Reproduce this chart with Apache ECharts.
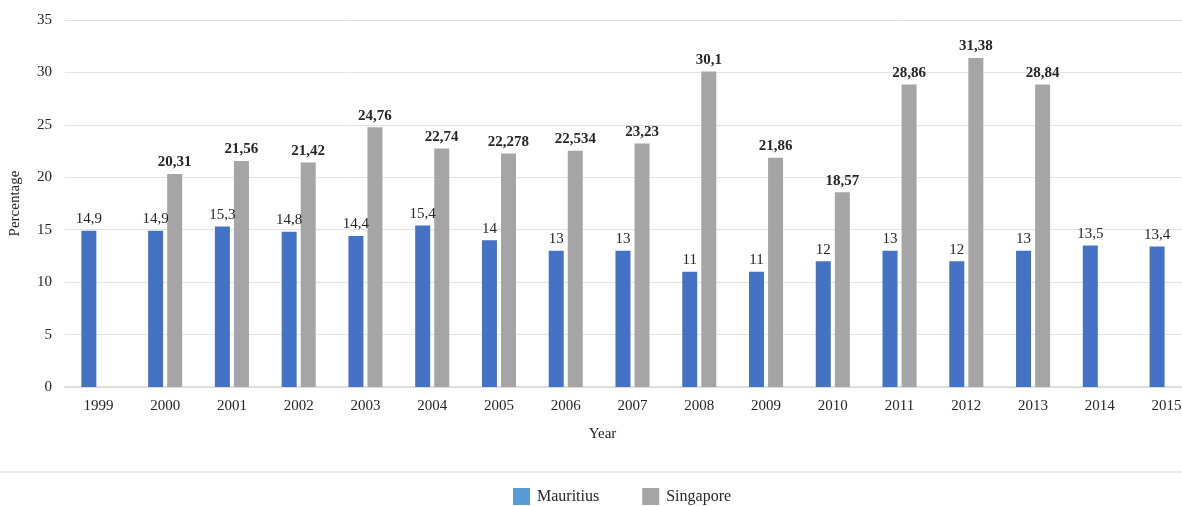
<!DOCTYPE html>
<html>
<head>
<meta charset="utf-8">
<script src="https://cdn.jsdelivr.net/npm/echarts@6/dist/echarts.min.js"></script>
<style>html,body{margin:0;padding:0;background:#fff;}#c{width:1182px;height:506px;}</style>
</head>
<body>
<div id="c"></div>
<script>
const years = ['1999','2000','2001','2002','2003','2004','2005','2006','2007','2008','2009','2010','2011','2012','2013','2014','2015'];
const mauritius = [14.9, 14.9, 15.3, 14.8, 14.4, 15.4, 14, 13, 13, 11, 11, 12, 13, 12, 13, 13.5, 13.4];
const singapore = [null, 20.31, 21.56, 21.42, 24.76, 22.74, 22.278, 22.534, 23.23, 30.1, 21.86, 18.57, 28.86, 31.38, 28.84, null, null];
const seriesNames = ['Mauritius', 'Singapore'];

const font = 'Liberation Serif';
const fmt = p => String(p.value).replace('.', ',');
const chart = echarts.init(document.getElementById('c'));
chart.setOption({
  animation: false,
  textStyle: { fontFamily: font },
  grid: { left: 65, width: 1135, top: 20, height: 367, containLabel: false, outerBoundsMode: 'none' },
  legend: {
    top: 483, left: 508, icon: 'rect', itemWidth: 17, itemHeight: 17, itemGap: 43,
    textStyle: { fontFamily: font, fontSize: 16, color: '#262626', padding: [0, 0, 0, 2] },
    data: [
      { name: seriesNames[0], itemStyle: { color: '#5b9bd5' } },
      { name: seriesNames[1], itemStyle: { color: '#a5a5a5' } }
    ]
  },
  graphic: [{ type: 'line', shape: { x1: 0, y1: 472, x2: 1182, y2: 472 }, style: { stroke: '#d9d9d9', lineWidth: 1 } }],
  xAxis: {
    type: 'category', data: years,
    name: 'Year', nameLocation: 'middle', nameGap: 40,
    nameTextStyle: { fontFamily: font, fontSize: 15, color: '#262626', padding: [0, 60, 0, 0] },
    axisLine: { lineStyle: { color: '#d9d9d9', width: 1.5 } },
    axisTick: { show: false },
    axisLabel: { fontFamily: font, fontSize: 15, color: '#262626', margin: 12 }
  },
  yAxis: {
    type: 'value', min: 0, max: 35, interval: 5,
    name: 'Percentage', nameLocation: 'middle', nameGap: 42,
    nameTextStyle: { fontFamily: font, fontSize: 15, color: '#262626' },
    axisLine: { show: false }, axisTick: { show: false },
    axisLabel: { fontFamily: font, fontSize: 15, color: '#262626', margin: 13 },
    splitLine: { lineStyle: { color: '#e3e3e3', width: 1 } }
  },
  series: [
    { name: seriesNames[0], type: 'bar', data: mauritius, barWidth: 15, barGap: '27%',
      itemStyle: { color: '#4472c4' },
      label: { show: true, position: 'top', formatter: fmt, fontFamily: font, fontSize: 15, color: '#262626', distance: 4 } },
    { name: seriesNames[1], type: 'bar', data: singapore, barWidth: 15,
      itemStyle: { color: '#a5a5a5' },
      label: { show: true, position: 'top', formatter: fmt, fontFamily: font, fontSize: 15, fontWeight: 'bold', color: '#262626', distance: 4 } }
  ]
});
</script>
</body>
</html>
